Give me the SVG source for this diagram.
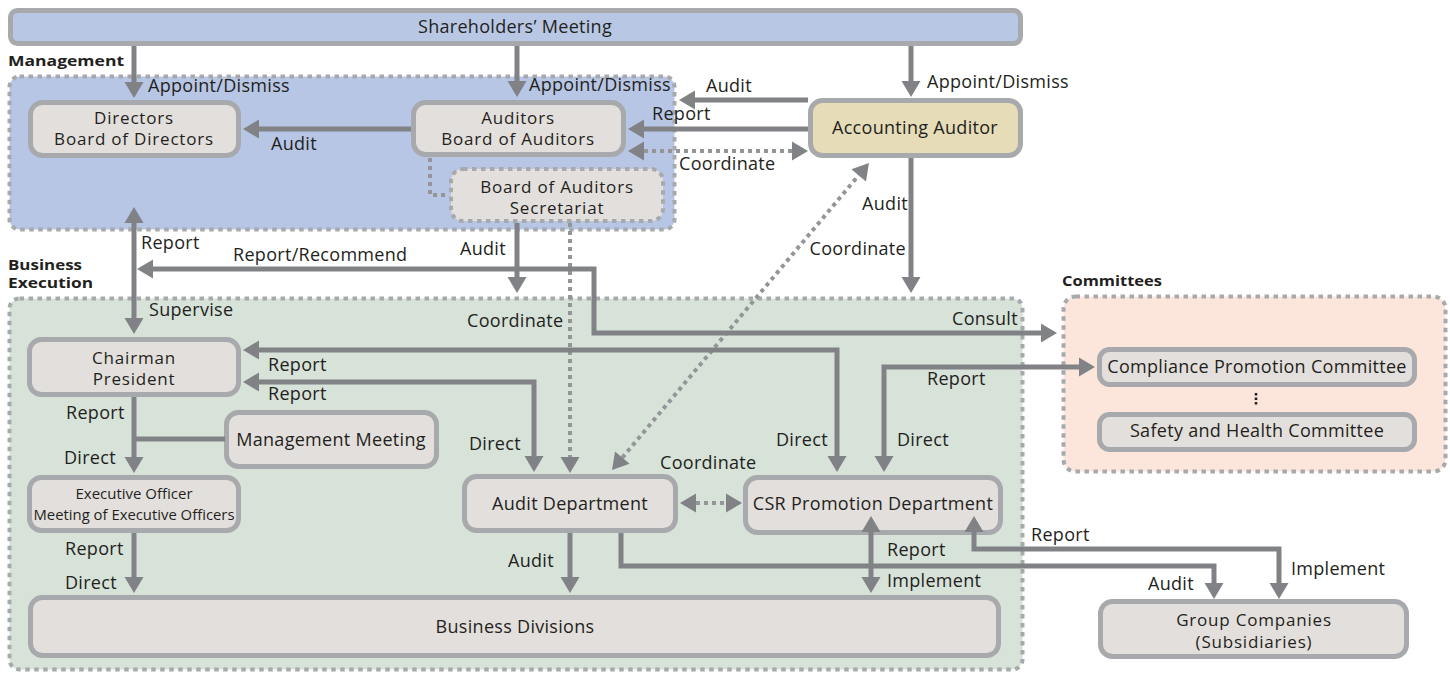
<svg xmlns="http://www.w3.org/2000/svg" width="1450" height="673" viewBox="0 0 1450 673">
<style>
text{font-family:"Open Sans","Noto Sans",sans-serif;font-size:18px;letter-spacing:0.3px;fill:#231f20}
.c{text-anchor:middle}
.e{text-anchor:end}
.t{font-size:17px;letter-spacing:0.8px}
.b{font-weight:bold;font-size:15px;letter-spacing:0}
.box{fill:#e3dfdc;stroke:#a7a9ac;stroke-width:5}
.dbox{fill:#e3dfdc;stroke:#a7a9ac;stroke-width:4;stroke-dasharray:4.5 4.5}
.cont{stroke:#a7a9ac;stroke-width:4;stroke-dasharray:4.5 4.5}
.ln{fill:none;stroke:#808285;stroke-width:5}
.dt{fill:none;stroke:#939598;stroke-width:4;stroke-dasharray:4 4}
</style>
<defs>
<marker id="a" markerUnits="userSpaceOnUse" markerWidth="17" markerHeight="19" refX="0" refY="9.5" orient="auto-start-reverse" overflow="visible">
<path d="M0,0 L16,9.5 L0,19 Z" fill="#808285"/>
</marker>
</defs>

<g id="containers">
<rect id="management" x="9.5" y="76.5" width="665" height="153" rx="10" fill="#b7c6e4" class="cont"/>
<rect id="business-execution" x="9.5" y="298.5" width="1013" height="371" rx="10" fill="#d7e2d9" class="cont"/>
<rect id="committees" x="1063.5" y="296.5" width="382" height="175" rx="12" fill="#fce5da" class="cont"/>
<text class="b" x="8" y="66" textLength="116" lengthAdjust="spacingAndGlyphs">Management</text>
<text class="b" x="8" y="270" textLength="74" lengthAdjust="spacingAndGlyphs">Business</text>
<text class="b" x="8" y="288" textLength="85" lengthAdjust="spacingAndGlyphs">Execution</text>
<text class="b" x="1062" y="286" textLength="100" lengthAdjust="spacingAndGlyphs">Committees</text>
</g>

<g id="shareholders"><rect x="10.5" y="10.5" width="1010" height="33" rx="7" fill="#b8c7e4" stroke="#a7a9ac" stroke-width="5"/><text class="c" x="515" y="33">Shareholders’ Meeting</text></g>
<g id="directors"><rect class="box" x="30.5" y="102.5" width="208" height="53" rx="12"/><text class="c t" x="134" y="124">Directors</text><text class="c t" x="134" y="145">Board of Directors</text></g>
<g id="auditors"><rect class="box" x="413.5" y="102.5" width="210" height="52" rx="12"/><text class="c t" x="518" y="124">Auditors</text><text class="c t" x="518" y="145">Board of Auditors</text></g>
<g id="secretariat"><rect class="dbox" x="451" y="169" width="212" height="52" rx="12"/><text class="c t" x="557" y="193">Board of Auditors</text><text class="c t" x="557" y="214">Secretariat</text></g>
<g id="accounting-auditor"><rect x="810.5" y="100.5" width="210" height="55" rx="12" fill="#e6dcb8" stroke="#a7a9ac" stroke-width="5"/><text class="c" x="915" y="134">Accounting Auditor</text></g>
<g id="chairman"><rect class="box" x="29.5" y="339.5" width="209" height="55" rx="12"/><text class="c t" x="134" y="364">Chairman</text><text class="c t" x="134" y="385">President</text></g>
<g id="management-meeting"><rect class="box" x="226.5" y="412.5" width="210" height="54" rx="12"/><text class="c" x="331" y="446">Management Meeting</text></g>
<g id="executive-officer"><rect class="box" x="29.5" y="477.5" width="209" height="53" rx="12"/><text class="c" x="134" y="499" style="font-size:14px;letter-spacing:0" textLength="117" lengthAdjust="spacingAndGlyphs">Executive Officer</text><text class="c" x="134" y="520" style="font-size:14px;letter-spacing:0" textLength="201" lengthAdjust="spacingAndGlyphs">Meeting of Executive Officers</text></g>
<g id="audit-department"><rect class="box" x="464.5" y="476.5" width="211" height="54" rx="12"/><text class="c" x="570" y="510">Audit Department</text></g>
<g id="csr-department"><rect class="box" x="745.5" y="477.5" width="255" height="55" rx="12"/><text class="c" x="873" y="510">CSR Promotion Department</text></g>
<g id="business-divisions"><rect class="box" x="30.5" y="597.5" width="968" height="58" rx="12"/><text class="c" x="515" y="633">Business Divisions</text></g>
<g id="compliance-committee"><rect class="box" x="1099.5" y="349.5" width="315" height="35" rx="10"/><text class="c" x="1257" y="373">Compliance Promotion Committee</text></g>
<g id="ellipsis"><line x1="1256" y1="393" x2="1256" y2="405" stroke="#231f20" stroke-width="2.5" stroke-dasharray="2.5 2"/></g>
<g id="safety-committee"><rect class="box" x="1099.5" y="414.5" width="315" height="35" rx="10"/><text class="c" x="1257" y="437">Safety and Health Committee</text></g>
<g id="group-companies"><rect class="box" x="1100.5" y="601.5" width="306" height="55" rx="12"/><text class="c t" x="1254" y="626">Group Companies</text><text class="c t" x="1254" y="648">(Subsidiaries)</text></g>

<g id="connectors">
<path class="ln" d="M134,46 V82" marker-end="url(#a)"/>
<path class="ln" d="M517,46 V81" marker-end="url(#a)"/>
<path class="ln" d="M911,46 V81" marker-end="url(#a)"/>
<path class="ln" d="M411,129 H259" marker-end="url(#a)"/>
<path class="ln" d="M808,100 H695" marker-end="url(#a)"/>
<path class="ln" d="M808,129 H644" marker-end="url(#a)"/>
<path class="dt" d="M644,151 H792" marker-start="url(#a)" marker-end="url(#a)"/>
<path class="dt" d="M430,158 V195 H449"/>
<path class="ln" d="M517,223 V277" marker-end="url(#a)"/>
<path class="dt" d="M570,223 V457" marker-end="url(#a)"/>
<path class="ln" d="M911,158 V277" marker-end="url(#a)"/>
<path class="dt" d="M622.3,457.7 L858.7,175.3" marker-start="url(#a)" marker-end="url(#a)"/>
<path class="ln" d="M134,223 V318" marker-start="url(#a)" marker-end="url(#a)"/>
<path class="ln" d="M153,269 H594 V333 H1041" marker-start="url(#a)" marker-end="url(#a)"/>
<path class="ln" d="M259,350 H837 V456" marker-start="url(#a)" marker-end="url(#a)"/>
<path class="ln" d="M259,382 H534 V456" marker-start="url(#a)" marker-end="url(#a)"/>
<path class="ln" d="M884,456 V367 H1079" marker-start="url(#a)" marker-end="url(#a)"/>
<path class="ln" d="M134,397 V457" marker-end="url(#a)"/>
<path class="ln" d="M134,439 H225"/>
<path class="ln" d="M134,533 V577" marker-end="url(#a)"/>
<path class="ln" d="M570,533 V577" marker-end="url(#a)"/>
<path class="ln" d="M621,533 V566 H1214 V583" marker-end="url(#a)"/>
<path class="ln" d="M871,532 V577" marker-start="url(#a)" marker-end="url(#a)"/>
<path class="ln" d="M974,532 V549 H1279 V583" marker-start="url(#a)" marker-end="url(#a)"/>
<path class="dt" d="M696,503 H726" marker-start="url(#a)" marker-end="url(#a)"/>
</g>

<g id="labels">
<text x="148" y="92">Appoint/Dismiss</text>
<text x="529" y="91">Appoint/Dismiss</text>
<text x="927" y="88">Appoint/Dismiss</text>
<text x="271" y="150">Audit</text>
<text x="706" y="92">Audit</text>
<text x="652" y="120">Report</text>
<text x="679" y="170">Coordinate</text>
<text class="e" x="908" y="210">Audit</text>
<text class="e" x="906" y="255">Coordinate</text>
<text x="141" y="249">Report</text>
<text x="233" y="261">Report/Recommend</text>
<text x="460" y="255">Audit</text>
<text x="149" y="316">Supervise</text>
<text x="467" y="327">Coordinate</text>
<text x="952" y="325">Consult</text>
<text x="268" y="371">Report</text>
<text x="268" y="400">Report</text>
<text x="927" y="385">Report</text>
<text x="66" y="419">Report</text>
<text x="64" y="464">Direct</text>
<text x="469" y="450">Direct</text>
<text x="776" y="446">Direct</text>
<text x="897" y="446">Direct</text>
<text x="660" y="469">Coordinate</text>
<text x="65" y="555">Report</text>
<text x="65" y="589">Direct</text>
<text x="508" y="567">Audit</text>
<text x="887" y="556">Report</text>
<text x="887" y="587">Implement</text>
<text x="1031" y="541">Report</text>
<text x="1291" y="575">Implement</text>
<text x="1148" y="590">Audit</text>
</g>
</svg>
